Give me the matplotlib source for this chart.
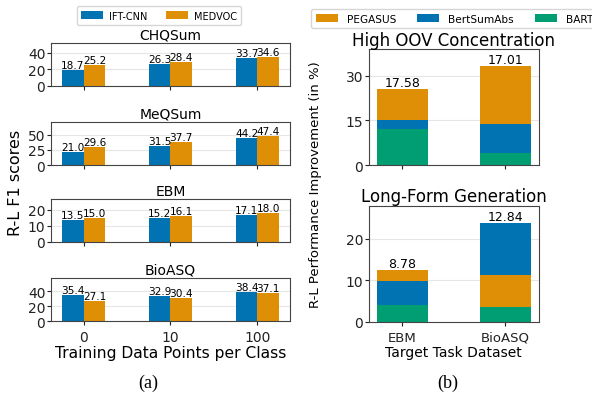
import numpy as np
import matplotlib
matplotlib.use('Agg')
from matplotlib import pyplot as plt

# left panel: R-L F1 per dataset
shots = ['0', '10', '100']
datasets = ['CHQSum', 'MeQSum', 'EBM', 'BioASQ']
ift_cnn = [[18.7, 26.3, 33.7],
           [21.0, 31.5, 44.2],
           [13.5, 15.2, 17.1],
           [35.4, 32.9, 38.4]]
medvoc = [[25.2, 28.4, 34.6],
          [29.6, 37.7, 47.4],
          [15.0, 16.1, 18.0],
          [27.1, 30.4, 37.1]]
left_ticks = [[0, 20, 40], [0, 25, 50], [0, 10, 20], [0, 20, 40]]

# right panel: improvement (in %), overlaid bars
targets = ['EBM', 'BioASQ']
models = ['PEGASUS', 'BertSumAbs', 'BART']
oov = {'PEGASUS': [25.5, 33.2], 'BertSumAbs': [15.0, 13.8], 'BART': [12.24, 4.03]}
longform = {'PEGASUS': [12.5, 11.2], 'BertSumAbs': [9.85, 23.8], 'BART': [3.99, 3.52]}

blue, orange, green = '#0173b2', '#de8f05', '#029e73'
mcol = {'PEGASUS': orange, 'BertSumAbs': blue, 'BART': green}
spine_col = '#444444'

fig = plt.figure(figsize=(5.92, 4.02), dpi=100)

def style(ax):
    ax.grid(axis='y', color='#e6e6e6', lw=0.8)
    ax.set_axisbelow(True)
    for s in ax.spines.values():
        s.set_color(spine_col)
    ax.tick_params(colors='#222222', length=3)

lefts = [0.784, 0.587, 0.396, 0.199]
x = np.arange(len(shots))
w = 0.25
for i, name in enumerate(datasets):
    ax = fig.add_axes([0.086, lefts[i], 0.404, 0.107])
    style(ax)
    b1 = ax.bar(x - w / 2, ift_cnn[i], w, color=blue, label='IFT-CNN')
    b2 = ax.bar(x + w / 2, medvoc[i], w, color=orange, label='MEDVOC')
    ax.bar_label(b1, fmt='%.1f', fontsize=7.6, padding=0)
    ax.bar_label(b2, fmt='%.1f', fontsize=7.6, padding=0)
    ax.set_ylim(0, 1.5 * max(max(ift_cnn[i]), max(medvoc[i])))
    ax.set_yticks(left_ticks[i])
    ax.tick_params(axis='y', labelsize=10, pad=1)
    ax.set_xticks(x)
    ax.set_title(name, fontsize=10, pad=3)
    if i < 3:
        ax.set_xticklabels([])
    else:
        ax.set_xticklabels(shots, fontsize=10)
        ax.set_xlabel('Training Data Points per Class', fontsize=11.2, labelpad=1)
    if i == 0:
        h, l = ax.get_legend_handles_labels()

fig.legend(h, l, loc='center', bbox_to_anchor=(159 / 592, 1 - 16.5 / 402), ncol=2,
           fontsize=7, columnspacing=2.0, handlelength=2.2, handletextpad=0.6,
           handleheight=0.9, borderpad=0.45)
fig.text(16 / 592, 0.545, 'R-L F1 scores', rotation=90, ha='center', va='center', fontsize=11.5)
fig.text(148 / 592, 1 - 383 / 402, '(a)', ha='center', va='center', fontsize=13,
         family='Liberation Serif')

# right panel
xr = np.arange(len(targets))
panels = [('High OOV Concentration', oov, [0, 15, 30], 39.0, 0.587),
          ('Long-Form Generation', longform, [0, 10, 20], 27.9, 0.197)]
for j, (title, data, ticks, top, bottom) in enumerate(panels):
    ax = fig.add_axes([0.623, bottom, 0.287, 0.289])
    style(ax)
    for k in range(len(targets)):
        order = sorted(models, key=lambda m: -data[m][k])
        for m in order:
            ax.bar(xr[k], data[m][k], 0.5, color=mcol[m], label=m if k == 0 else None)
        avg = np.mean([data[m][k] for m in models])
        ax.text(xr[k], max(data[m][k] for m in models), '%.2f' % avg,
                ha='center', va='bottom', fontsize=9)
    ax.set_ylim(0, top)
    ax.set_yticks(ticks)
    ax.tick_params(axis='y', labelsize=10, pad=1)
    ax.set_xticks(xr)
    ax.set_title(title, fontsize=12, pad=3)
    if j == 0:
        ax.set_xticklabels([])
        h, l = ax.get_legend_handles_labels()
        idx = [l.index(m) for m in models]
        h = [h[i] for i in idx]
        l = [l[i] for i in idx]
    else:
        ax.set_xticklabels(targets, fontsize=9.5)
        ax.set_xlabel('Target Task Dataset', fontsize=10, labelpad=1)

# legend runs past the right edge, as in the source figure
fig.legend(h, l, loc='upper left', bbox_to_anchor=(306 / 592, 1 - 5 / 402), ncol=3,
           fontsize=7.6, columnspacing=2.0, handlelength=2.1, handletextpad=0.85,
           handleheight=0.9, borderpad=0.4)
fig.text(316 / 592, 0.54, 'R-L Performance Improvement (in %)', rotation=90,
         ha='center', va='center', fontsize=9.5)
fig.text(448 / 592, 1 - 383 / 402, '(b)', ha='center', va='center', fontsize=13,
         family='Liberation Serif')

fig.savefig('out.png', dpi=100)
